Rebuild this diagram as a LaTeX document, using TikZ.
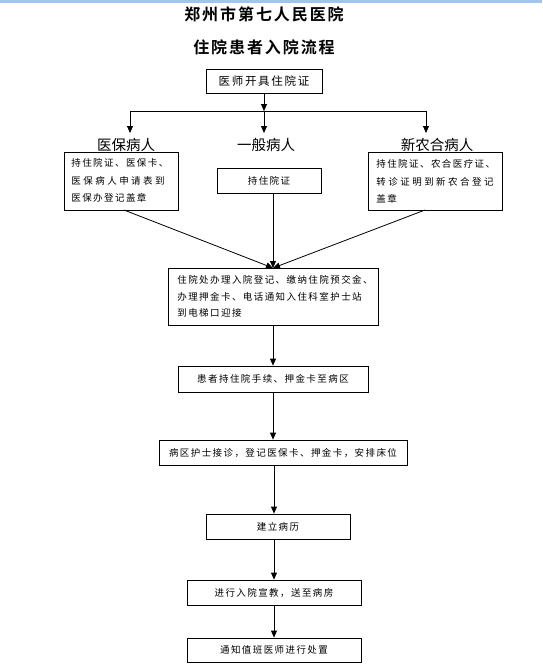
\documentclass[tikz,border=0pt]{standalone}
\usepackage{fontspec}
\setmainfont{Noto Sans CJK SC}
\newfontfamily\titlefont[LetterSpace=12,BoldFont={* Bold}]{Noto Sans CJK SC}
\newfontfamily\boxfont[LetterSpace=15]{Noto Sans CJK SC}
\newfontfamily\widefont[LetterSpace=26]{Noto Sans CJK SC}
\usetikzlibrary{arrows.meta}
\begin{document}
\begin{tikzpicture}[x=1pt,y=-1pt,
  box/.style={draw=black,line width=0.8pt,inner sep=0pt,font=\boxfont\fontsize{9.5}{16}\selectfont,align=center},
  lbl/.style={inner sep=0pt,font=\fontsize{14.5}{16}\selectfont},
  ttl/.style={inner sep=0pt,font=\titlefont\bfseries\fontsize{16}{18}\selectfont},
  arr/.style={line width=0.8pt,-{Triangle[width=6pt,length=7pt]}},
  ln/.style={line width=0.8pt}]
\useasboundingbox (0,0) rectangle (542,667);
\fill[fill={rgb,255:red,160;green,196;blue,235}] (0,0) rectangle (542,2.5);
% titles
\node[ttl] (t1) at (264,14) {郑州市第七人民医院};
\node[ttl] (t2) at (264,47) {住院患者入院流程};
% top box
\node[box,minimum width=116pt,minimum height=24pt,font=\boxfont\fontsize{11.5}{14}\selectfont] (b0) at (264,81.5) {医师开具住院证};
% branch labels
\node[lbl] (l1) at (126,145) {医保病人};
\node[lbl] (l2) at (266,145) {一般病人};
\node[lbl] (l3) at (437,145) {新农合病人};
% branch boxes
\node[box,minimum width=114pt,minimum height=58pt] (bl) at (121,181) {};
\node[box,font=\boxfont\fontsize{9.5}{17.5}\selectfont,align=left,anchor=north west,draw=none] (blt) at (71,158.5)
  {持住院证、医保卡、\\{\widefont 医保病人申请表到}\\医保办登记盖章};
\node[box,minimum width=104pt,minimum height=25pt] (bm) at (269,180.5) {持住院证};
\node[box,minimum width=134pt,minimum height=58pt] (br) at (435,181) {};
\node[box,font=\boxfont\fontsize{9.5}{17.5}\selectfont,align=left,anchor=north west,draw=none] (brt) at (376,159.5)
  {持住院证、农合医疗证、\\{\widefont 转诊证明到新农合登记}\\盖章};
% main chain
\node[box,minimum width=210pt,minimum height=57pt] (c1) at (273,296.5) {};
\node[box,font=\boxfont\fontsize{9.5}{16.5}\selectfont,align=left,anchor=north west,draw=none] (c1t) at (177,275.5)
  {住院处办理入院登记、缴纳住院预交金、\\办理押金卡、电话通知入住科室护士站\\到电梯口迎接};
\node[box,minimum width=190pt,minimum height=26pt] (c2) at (273,379) {患者持住院手续、押金卡至病区};
\node[box,minimum width=248pt,minimum height=25pt] (c3) at (283,452.5) {病区护士接诊，登记医保卡、押金卡，安排床位};
\node[box,minimum width=144pt,minimum height=25pt] (c4) at (278,526.5) {建立病历};
\node[box,minimum width=174pt,minimum height=25pt] (c5) at (274,592.5) {进行入院宣教，送至病房};
\node[box,minimum width=174pt,minimum height=24pt] (c6) at (274,650) {通知值班医师进行处置};
% junction
\coordinate (j) at (264,111);
\coordinate (jl) at (130,111);
\coordinate (jr) at (426,111);
\coordinate (l1t) at (130,133);
\coordinate (l2t) at (264,133);
\coordinate (l3t) at (426,133);
\draw[arr] (b0.south -| j) -- (j);
\draw[ln] (jl) -- (jr);
\draw[arr] (jl) -- (l1t);
\draw[arr] (j) -- (l2t);
\draw[arr] (jr) -- (l3t);
% converge
\coordinate (blb) at (124,210);
\coordinate (bmb) at (273,193);
\coordinate (brb) at (425,210);
\coordinate (m) at (273,268);
\draw[arr] (blb) -- (m);
\draw[arr] (bmb) -- (m);
\draw[arr] (brb) -- (m);
\coordinate (x1) at (273,325);
\coordinate (x2) at (273,392);
\coordinate (x3) at (274,465);
\coordinate (x4) at (274,539);
\coordinate (x5) at (274,605);
\draw[arr] (x1) -- (x1 |- c2.north);
\draw[arr] (x2) -- (x2 |- c3.north);
\draw[arr] (x3) -- (x3 |- c4.north);
\draw[arr] (x4) -- (x4 |- c5.north);
\draw[arr] (x5) -- (x5 |- c6.north);
\end{tikzpicture}
\end{document}
